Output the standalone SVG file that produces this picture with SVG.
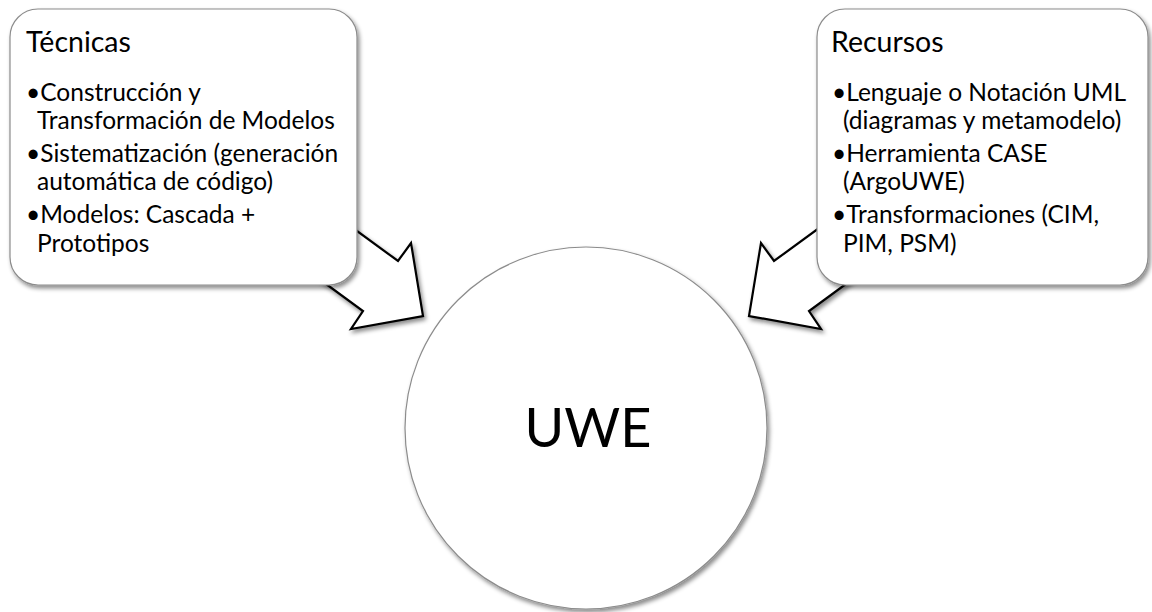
<svg xmlns="http://www.w3.org/2000/svg" width="1152" height="612" viewBox="0 0 1152 612">
  <style>
    .box { fill: #ffffff; stroke: #8c8c8c; stroke-width: 1.2; filter: url(#shadow); }
    .arrow { fill: #ffffff; stroke: #000000; stroke-width: 2.2; stroke-linejoin: miter; filter: url(#shadow); }
    .hub { fill: #ffffff; stroke: #8c8c8c; stroke-width: 1.2; filter: url(#shadow); }
    .title { font-family: Lato, "Liberation Sans", sans-serif; font-size: 28.5px; fill: #000000; }
    .item { font-family: Lato, "Liberation Sans", sans-serif; font-size: 24.5px; fill: #000000; }
    .hubtext { font-family: Lato, "Liberation Sans", sans-serif; font-size: 54px; fill: #000000; }
  </style>
  <defs>
    <filter id="shadow" x="-10%" y="-10%" width="130%" height="130%">
      <feDropShadow dx="2" dy="3" stdDeviation="2" flood-color="#000000" flood-opacity="0.45"/>
    </filter>
  </defs>

  <rect width="1152" height="612" fill="#ffffff"/>

  <!-- block arrows feeding the central circle -->
  <g id="connectors">
    <polygon class="arrow" points="316,201 398,261 411,243 423,316 351,329 363,311 281,251"/>
    <polygon class="arrow" points="856,201 774,261 761,243 749,316 821,329 809,311 891,251"/>
  </g>

  <g id="tecnicas">
    <rect class="box" x="10" y="9" width="347" height="276" rx="28" ry="28"/>
    <text class="title" x="26" y="52">Técnicas</text>
    <text class="item" x="26" y="101">•Construcción y</text>
    <text class="item" x="37" y="129">Transformación de Modelos</text>
    <text class="item" x="26" y="162">•Sistematización (generación</text>
    <text class="item" x="37" y="190">automática de código)</text>
    <text class="item" x="26" y="223">•Modelos: Cascada +</text>
    <text class="item" x="37" y="252">Prototipos</text>
  </g>

  <g id="recursos">
    <rect class="box" x="817" y="9" width="331" height="276" rx="28" ry="28"/>
    <text class="title" x="831" y="52">Recursos</text>
    <text class="item" x="832" y="101">•Lenguaje o Notación UML</text>
    <text class="item" x="843" y="129">(diagramas y metamodelo)</text>
    <text class="item" x="832" y="162">•Herramienta CASE</text>
    <text class="item" x="843" y="190">(ArgoUWE)</text>
    <text class="item" x="832" y="223">•Transformaciones (CIM,</text>
    <text class="item" x="843" y="252">PIM, PSM)</text>
  </g>

  <g id="uwe">
    <circle class="hub" cx="586" cy="428" r="181"/>
    <text class="hubtext" x="588" y="447" text-anchor="middle">UWE</text>
  </g>
</svg>
